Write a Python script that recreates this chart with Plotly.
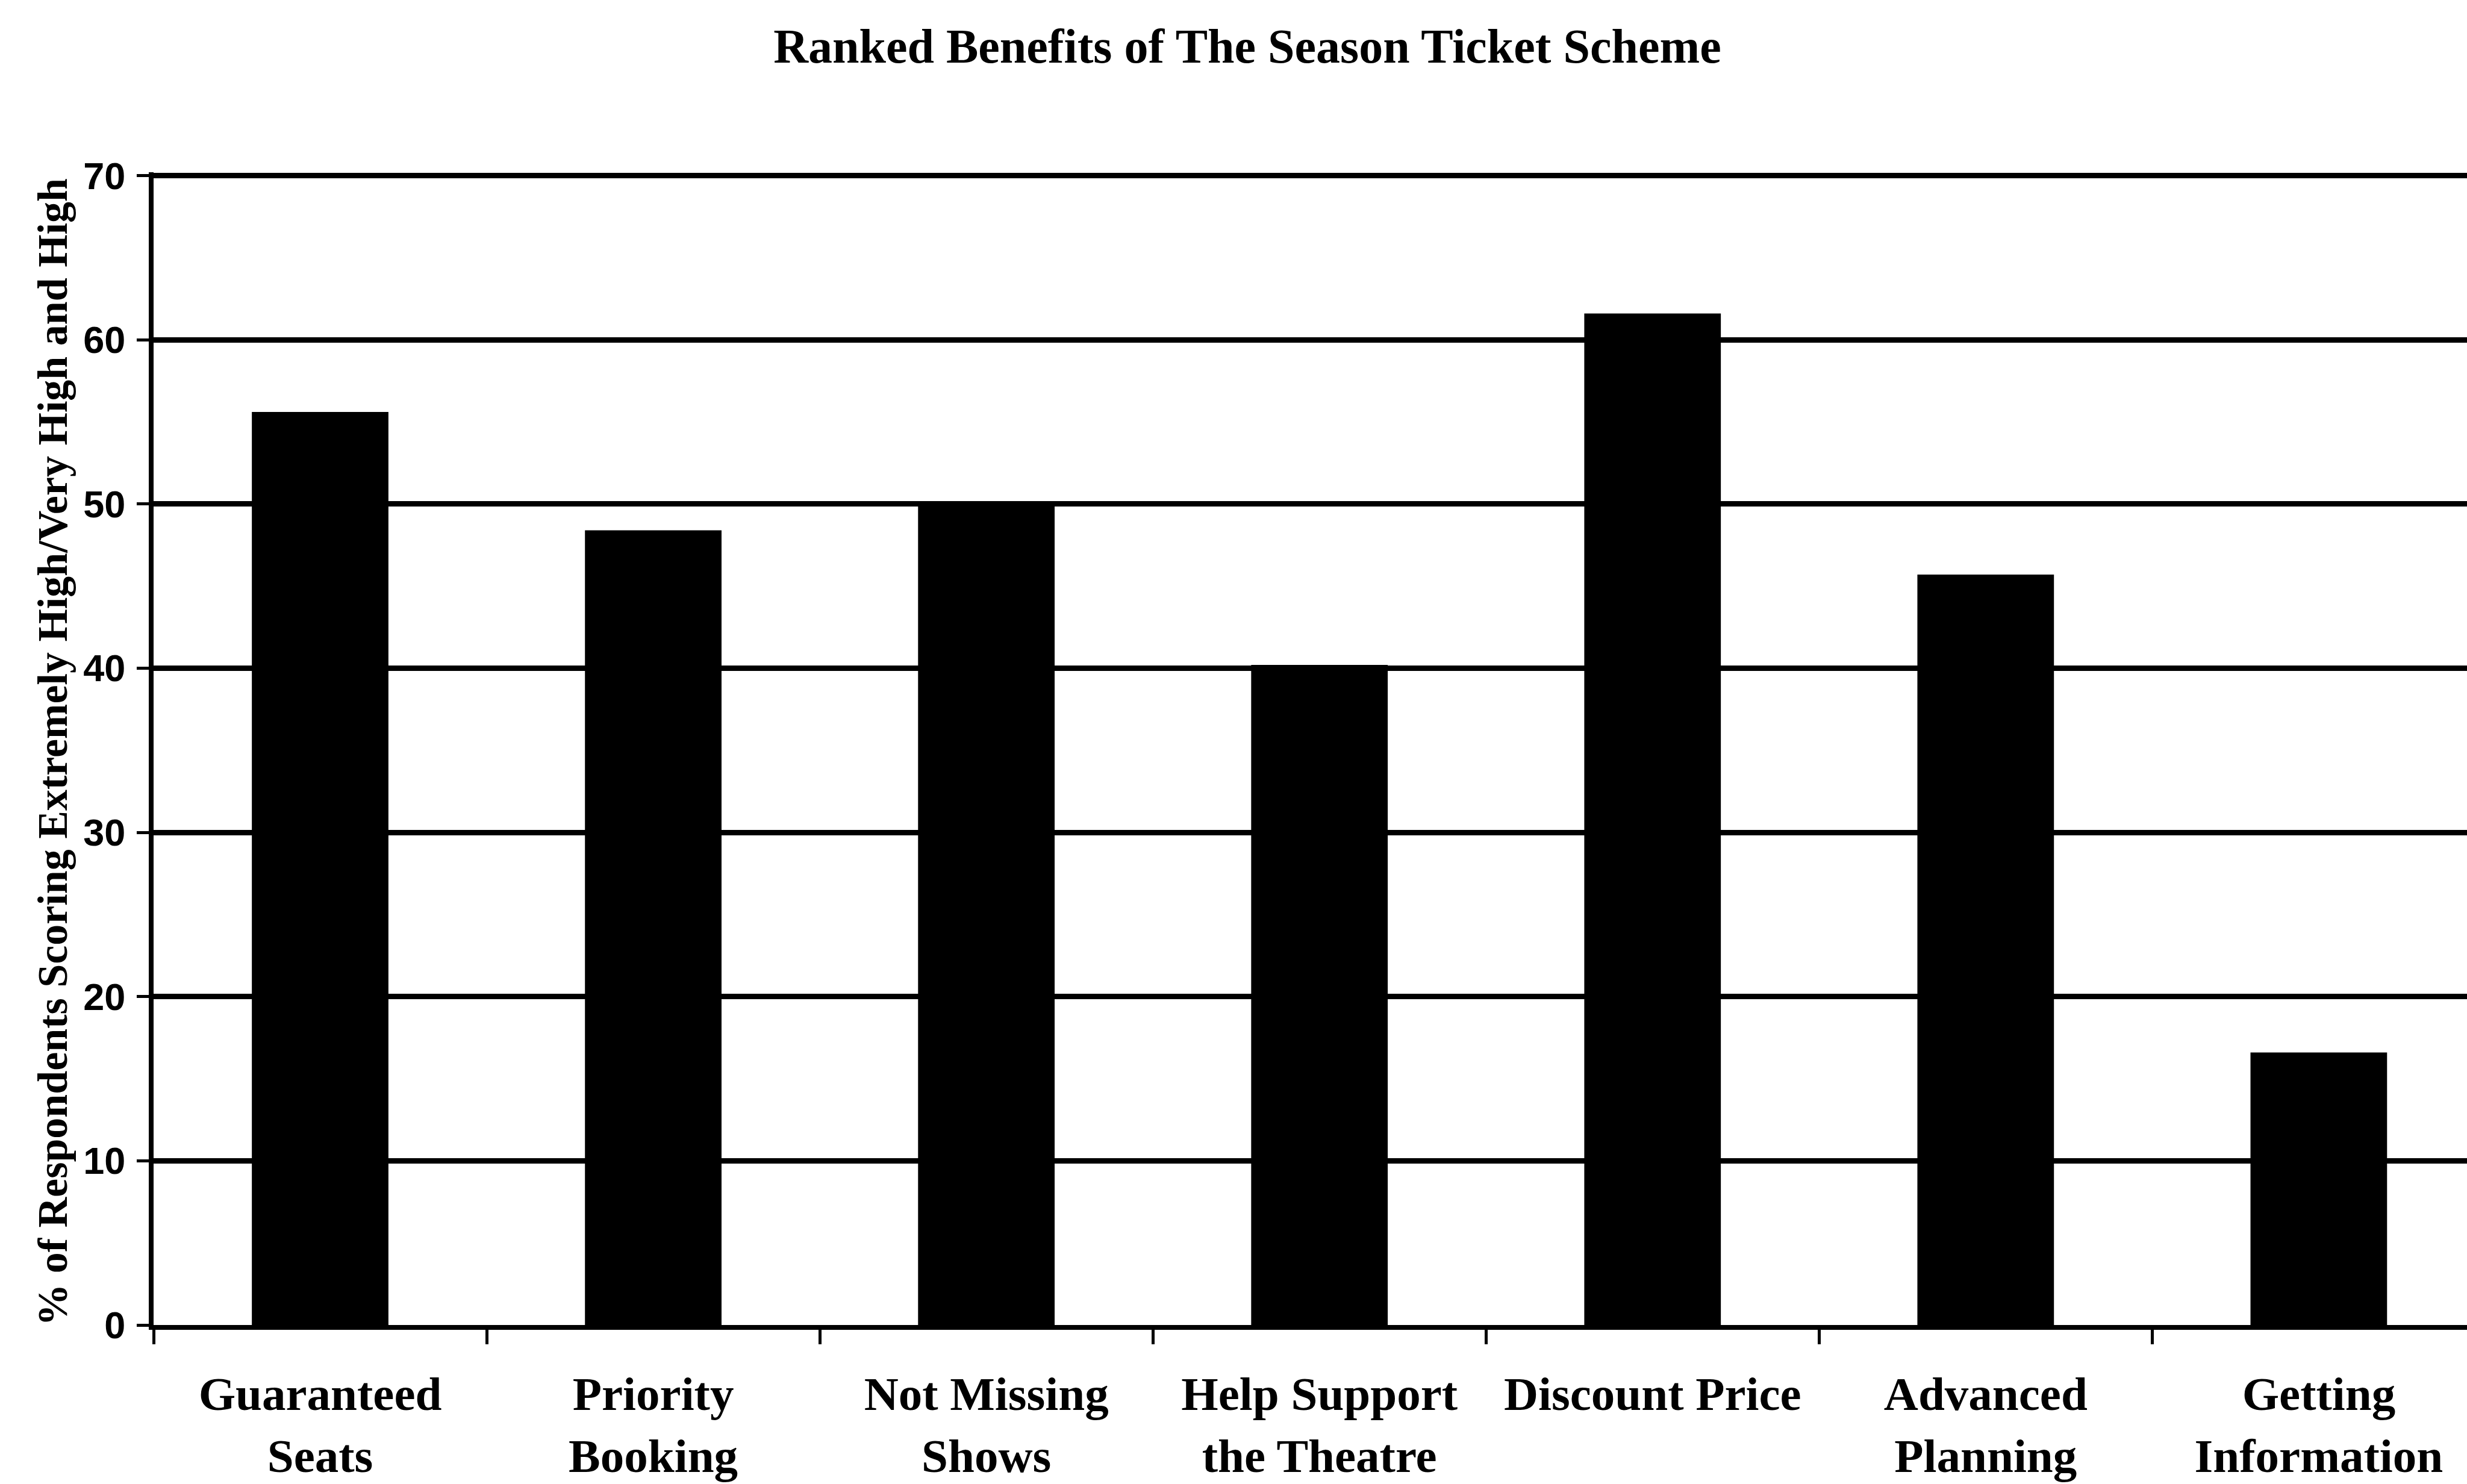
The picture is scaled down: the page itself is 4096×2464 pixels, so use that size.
import plotly.graph_objects as go

# Survey results: share of respondents rating each benefit extremely high / very high / high
categories = [
    "Guaranteed<br>Seats",
    "Priority<br>Booking",
    "Not Missing<br>Shows",
    "Help Support<br>the Theatre",
    "Discount Price",
    "Advanced<br>Planning",
    "Getting<br>Information",
]
percent_high = [55.6, 48.4, 50.1, 40.2, 61.6, 45.7, 16.6]
y_ticks = [0, 10, 20, 30, 40, 50, 60, 70]

W, H = 4096, 2464
SERIF = "Liberation Serif, Times New Roman, serif"
SANS = "Liberation Sans, Arial, sans-serif"

fig = go.Figure(
    go.Bar(
        x=categories,
        y=percent_high,
        marker=dict(color="black", line=dict(width=0)),
        width=0.41,
    )
)

fig.update_layout(
    width=W,
    height=H,
    margin=dict(l=255, r=0, t=286, b=264, autoexpand=False),
    paper_bgcolor="white",
    plot_bgcolor="white",
    showlegend=False,
    title=dict(
        text="<b>Ranked Benefits of The Season Ticket Scheme</b>",
        font=dict(family=SERIF, size=80, color="black"),
        x=0.5056,
        xref="container",
        xanchor="center",
        y=1 - 76 / H,
        yref="container",
        yanchor="middle",
    ),
)

fig.update_xaxes(
    type="category",
    range=[-0.5, 6.445],
    showgrid=False,
    showline=True,
    linecolor="black",
    linewidth=8,
    ticks="outside",
    tickson="boundaries",
    ticklen=24,
    tickwidth=5,
    tickcolor="black",
    tickfont=dict(family=SERIF, size=79, color="black"),
    ticklabelstandoff=38,
    tickprefix="<b>",
    ticksuffix="</b>",
)

# Range reaches just past 70 so the top gridline is drawn at full weight
fig.update_yaxes(
    range=[0, 70.2],
    tickvals=y_ticks,
    ticktext=[f"<b>{v}</b>" for v in y_ticks],
    showgrid=True,
    gridcolor="black",
    gridwidth=9,
    zeroline=False,
    showline=True,
    linecolor="black",
    linewidth=8,
    ticks="outside",
    ticklen=20,
    tickwidth=5,
    tickcolor="black",
    tickfont=dict(family=SANS, size=63, color="black"),
    ticklabelstandoff=6,
)

# Vertical axis title
fig.add_annotation(
    text="<b>% of Respondents Scoring Extremely High/Very High and High</b>",
    textangle=-90,
    xref="paper",
    yref="paper",
    x=(88 - 255) / (W - 255),
    y=0.497,
    xanchor="center",
    yanchor="middle",
    showarrow=False,
    font=dict(family=SERIF, size=70, color="black"),
)

fig.write_html("out.html")
